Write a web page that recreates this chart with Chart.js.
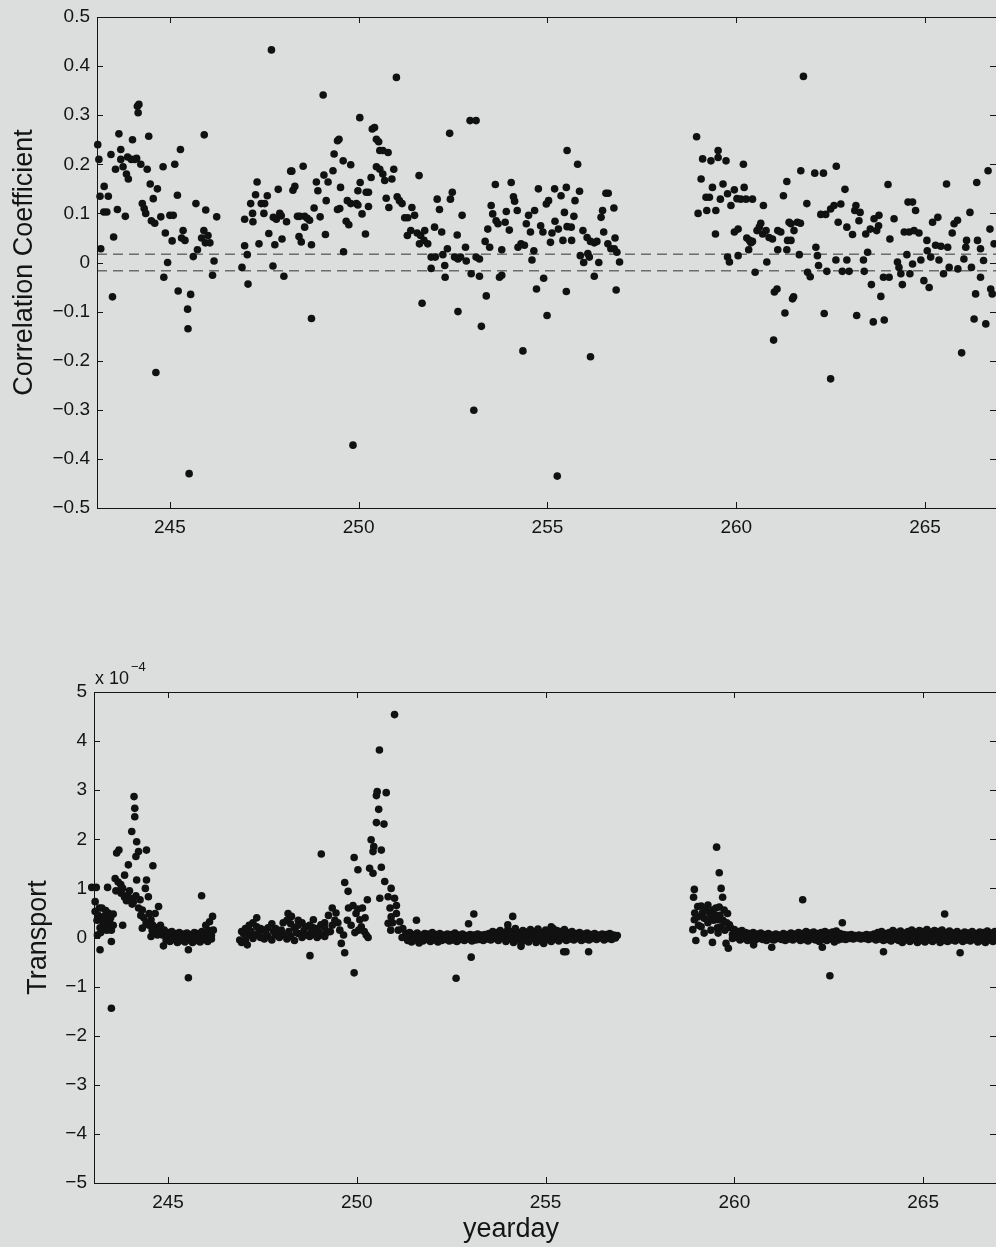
<!DOCTYPE html>
<html>
<head>
<meta charset="utf-8">
<title>Correlation coefficient and transport vs yearday</title>
<script src="https://cdn.jsdelivr.net/npm/chart.js@4.4.1/dist/chart.umd.min.js"></script>
<style>
  html, body { margin: 0; padding: 0; background: #dcdddd; overflow: hidden; }
  #wrap { position: relative; width: 996px; height: 1247px; overflow: hidden; }
  canvas { position: absolute; left: 0; }
  #corr-canvas { top: 0; }
  #trans-canvas { top: 600px; }
</style>
</head>
<body>
<div id="wrap">
  <canvas id="corr-canvas" width="1000" height="560"></canvas>
  <canvas id="trans-canvas" width="1000" height="647"></canvas>
</div>
<script>
// ---- data: [yearday, value] ----

const dayTicks = [245, 250, 255, 260, 265];
const corrTicks = [-0.5, -0.4, -0.3, -0.2, -0.1, 0, 0.1, 0.2, 0.3, 0.4, 0.5];
const transTicks = [-5, -4, -3, -2, -1, 0, 1, 2, 3, 4, 5];
const dashLevels = [0.017, -0.017];   // significance band in top panel

// correlation coefficient, first deployment burst
const corrA = [
  [243.09,0.24],[243.12,0.21],[243.15,0.135],[243.37,0.135],[243.26,0.155],[243.25,0.103],[243.33,0.103],
  [243.17,0.028],[243.44,0.22],[243.48,-0.07],[243.51,0.052],[243.56,0.19],[243.61,0.108],[243.65,0.262],
  [243.7,0.23],[243.7,0.21],[243.76,0.195],[243.82,0.094],[243.85,0.18],[243.9,0.17],[243.88,0.215],
  [244.01,0.25],[243.98,0.21],[244.07,0.21],[244.12,0.212],[244.14,0.318],[244.18,0.322],[244.16,0.305],
  [244.23,0.2],[244.27,0.12],[244.32,0.11],[244.36,0.1],[244.4,0.19],[244.44,0.257],[244.48,0.16],
  [244.56,0.13],[244.51,0.085],[244.6,0.08],[244.63,-0.224],[244.67,0.15],[244.76,0.093],[244.82,0.195],
  [244.84,-0.03],[244.88,0.06],[244.94,0.0],[245.0,0.096],[245.09,0.096],[245.06,0.044],[245.13,0.2],
  [245.2,0.137],[245.22,-0.058],[245.28,0.23],[245.31,0.05],[245.35,0.065],[245.4,0.045],[245.47,-0.095],
  [245.48,-0.135],[245.55,-0.065],[245.51,-0.43],[245.62,0.012],[245.69,0.12],[245.73,0.026],[245.84,0.05],
  [245.9,0.065],[245.94,0.04],[246.01,0.055],[246.06,0.04],[245.91,0.26],[245.95,0.107],[246.13,-0.026],
  [246.17,0.003],[246.24,0.093]
];

// correlation coefficient, second burst
const corrB = [
  [246.91,-0.01],[246.98,0.088],[246.98,0.034],[247.05,0.016],[247.07,-0.044],[247.14,0.12],[247.19,0.1],
  [247.2,0.083],[247.27,0.138],[247.31,0.164],[247.36,0.038],[247.42,0.12],[247.51,0.12],[247.49,0.1],
  [247.58,0.136],[247.62,0.059],[247.69,0.433],[247.73,-0.007],[247.78,0.036],[247.74,0.092],[247.82,0.088],
  [247.87,0.149],[247.91,0.1],[247.95,0.095],[247.97,0.048],[248.02,-0.028],[248.09,0.083],[248.2,0.186],
  [248.23,0.186],[248.26,0.147],[248.31,0.155],[248.38,0.094],[248.44,0.094],[248.57,0.094],[248.42,0.053],
  [248.48,0.042],[248.53,0.196],[248.57,0.072],[248.64,0.09],[248.7,0.086],[248.75,-0.114],[248.75,0.036],
  [248.82,0.111],[248.88,0.164],[248.92,0.146],[248.98,0.093],[249.06,0.341],[249.12,0.057],[249.08,0.178],
  [249.14,0.126],[249.19,0.164],
  [249.32,0.187],[249.35,0.221],[249.44,0.248],[249.48,0.251],[249.44,0.108],[249.5,0.11],[249.52,0.153],
  [249.59,0.207],[249.6,0.022],[249.7,0.126],[249.79,0.12],[249.79,0.199],[249.67,0.084],[249.74,0.077],
  [249.85,-0.372],[249.94,0.12],[249.98,0.117],[249.98,0.146],[250.03,0.295],[250.04,0.163],[250.09,0.099],
  [250.18,0.058],[250.2,0.143],[250.26,0.143],[250.26,0.114],[250.33,0.173],[250.36,0.272],[250.42,0.275],
  [250.47,0.251],[250.53,0.246],[250.47,0.195],[250.56,0.19],[250.56,0.228],[250.64,0.228],[250.78,0.224],
  [250.64,0.18],[250.69,0.167],[250.73,0.131],[250.8,0.112],[250.88,0.17],[250.93,0.19],[251.0,0.377],
  [251.02,0.134],[251.08,0.126],[251.15,0.12],[251.22,0.091],[251.3,0.091],[251.48,0.096],[251.29,0.055],
  [251.38,0.065],[251.41,0.112],[251.6,0.177],[251.55,0.06],[251.64,0.055],[251.73,0.045],[251.83,0.038],
  [251.61,0.038],[251.68,-0.083],[251.75,0.065],[251.92,0.011],[252.03,0.011],[251.92,-0.012],[252.01,0.072],
  [252.08,0.129],[252.14,0.108],[252.2,0.062],[252.23,0.016],[252.35,0.028],[252.28,-0.006],[252.29,-0.03],
  [252.41,0.263],[252.43,0.129],[252.48,0.143],[252.54,0.011],[252.63,0.007],[252.7,0.011],[252.61,0.056],
  [252.63,-0.1],[252.74,0.096],[252.83,0.031],[252.85,0.003],[252.95,0.289],[253.11,0.289],[252.98,-0.023],
  [253.2,-0.028],[253.05,-0.301],[253.11,0.011],[253.2,0.007],[253.25,-0.13],[253.35,0.043],[253.38,-0.068],
  [253.42,0.068],[253.47,0.031],[253.51,0.116],[253.55,0.099],[253.64,0.085],[253.69,0.079],[253.62,0.159],
  [253.73,-0.03],[253.79,-0.026],[253.79,0.026],[253.88,0.082],[253.91,0.104],[253.99,0.066],[254.04,0.163],
  [254.1,0.134],[254.13,0.125],[254.2,0.106],[254.22,0.031],[254.3,0.038],[254.39,0.035],[254.35,-0.18],
  [254.44,0.079],[254.5,0.096],[254.55,0.062],[254.59,0.005],[254.66,0.106],[254.64,0.024],[254.71,-0.054],
  [254.76,0.15],[254.82,0.075],[254.88,0.062],[254.9,-0.032],[254.97,0.119],[255.03,0.126],[254.99,-0.108],
  [255.08,0.041],[255.12,0.06],[255.19,0.15],[255.2,0.084],[255.29,0.068],[255.26,-0.435],[255.36,0.136],
  [255.41,0.045],[255.45,0.102],[255.5,0.153],[255.52,0.228],[255.5,-0.059],[255.52,0.073],
  [255.8,0.2],[255.85,0.145],[255.73,0.126],[255.7,0.094],[255.63,0.072],[255.64,0.045],[255.94,0.065],
  [256.05,0.051],[256.14,0.043],[256.24,0.04],[256.31,0.043],[255.87,0.014],[255.96,0.0],[256.11,0.011],
  [256.07,0.018],[256.14,-0.192],[256.24,-0.028],[256.36,0.0],[256.42,0.092],[256.46,0.106],[256.49,0.062],
  [256.55,0.141],[256.61,0.141],[256.6,0.038],[256.68,0.028],[256.77,0.028],[256.76,0.111],[256.79,0.05],
  [256.82,-0.056],[256.84,0.021],[256.91,0.001]
];

// correlation coefficient, third burst
const corrC = [
  [258.95,0.256],[258.99,0.1],[259.07,0.17],[259.11,0.211],[259.33,0.207],[259.2,0.133],[259.29,0.133],
  [259.22,0.106],[259.46,0.106],[259.37,0.153],[259.45,0.058],[259.52,0.228],[259.52,0.214],[259.58,0.129],
  [259.65,0.16],[259.73,0.207],[259.77,0.14],[259.77,0.011],[259.82,0.001],[259.86,0.116],[259.95,0.148],
  [259.95,0.062],[260.02,0.13],[260.12,0.129],[260.26,0.129],[260.43,0.129],[260.05,0.068],[260.05,0.014],
  [260.19,0.2],[260.21,0.153],[260.28,0.05],[260.35,0.045],[260.33,0.026],[260.5,-0.02],[260.55,0.065],
  [260.61,0.072],[260.7,0.058],[260.79,0.065],[260.87,0.051],[260.96,0.048],[261.1,0.065],[261.18,0.062],
  [260.65,0.08],[260.72,0.116],[260.81,0.001],[260.43,0.043],[260.39,0.04],[260.99,-0.158],[261.01,-0.06],
  [261.08,-0.054],[261.1,0.026],[261.25,0.136],[261.29,-0.103],[261.34,0.165],[261.34,0.026],[261.45,0.079],
  [261.45,0.045],[261.49,-0.074],
  [261.78,0.379],[261.71,0.187],[262.08,0.182],[262.31,0.182],[262.65,0.196],[262.88,0.149],[261.87,0.12],
  [261.4,0.082],[261.62,0.082],[261.7,0.08],[261.53,0.065],[261.36,0.045],[261.67,0.016],[261.89,-0.02],
  [261.96,-0.029],[261.52,-0.07],[262.11,0.031],[262.15,0.014],[262.18,-0.006],[262.24,0.098],[262.37,0.098],
  [262.4,-0.018],[262.33,-0.104],[262.5,-0.237],[262.5,0.109],[262.59,0.116],[262.77,0.119],[262.7,0.082],
  [262.64,0.005],[262.81,-0.018],[262.99,-0.018],[262.93,0.072],[262.93,0.005],[263.08,0.057],[263.14,0.106],
  [263.17,0.116],[263.28,0.102],[263.19,-0.108],[263.25,0.085],[263.39,-0.018],[263.37,0.005],[263.43,0.058],
  [263.48,0.021],[263.55,0.068],[263.58,-0.045],[263.63,-0.121],[263.92,-0.117],[263.65,0.089],[263.72,0.065],
  [263.77,0.075],[263.78,0.096],[263.83,-0.069],[263.9,-0.03],[264.05,-0.03],[264.02,0.159],[264.07,0.048],
  [264.18,0.089],[264.27,0.001],[264.31,-0.01],[264.36,-0.023],[264.4,-0.045],[264.45,0.062],[264.58,0.062],
  [264.71,0.065],[264.52,0.016],[264.55,0.123],[264.67,0.123],[264.6,-0.023],[264.67,-0.003],[264.75,0.106],
  [264.84,0.06],[264.89,0.005],[264.97,-0.037],[265.05,0.045],[265.06,0.024],[265.11,-0.051],[265.15,0.011],
  [265.2,0.082],[265.34,0.092],[265.28,0.035],[265.42,0.033],[265.6,0.031],[265.37,0.005],[265.49,-0.023],
  [265.57,0.16],[265.64,-0.01],[265.72,0.06],[265.77,0.079],[265.86,0.086],[265.87,-0.013],[265.97,-0.184],
  [266.03,0.007],[266.08,0.031],[266.1,0.045],[266.19,0.102],[266.23,-0.01],[266.3,-0.115],[266.34,-0.064],
  [266.37,0.163],[266.39,0.045],[266.47,0.028],[266.47,-0.03],[266.55,0.004],[266.61,-0.125],[266.67,0.187],
  [266.72,0.068],[266.74,-0.054],[266.78,-0.064],[266.83,0.038]
];

// transport (units of 1e-4), first burst with the spike near day 244
const transA = [
  [242.98,1.02],[243.1,1.02],[243.4,1.02],[243.07,0.73],[243.07,0.53],[243.15,0.45],[243.28,0.42],
  [243.42,0.5],[243.55,0.48],[243.2,0.2],[243.37,0.22],[243.5,0.15],[243.13,0.05],[243.3,0.3],[243.45,0.35],
  [243.25,0.6],[243.35,0.55],[243.2,-0.25],[243.5,-0.08],[243.5,-1.44],[243.64,1.72],[243.7,1.78],
  [243.6,1.2],[243.68,1.13],[243.75,1.08],[243.76,0.9],[243.85,0.82],[243.93,0.86],[244.0,0.8],[244.08,0.72],
  [243.8,0.25],[243.85,1.27],[243.95,1.48],[244.04,2.16],[244.1,2.87],[244.12,2.63],[244.12,2.46],
  [244.17,1.95],[244.15,1.65],[244.22,1.75],[244.17,1.17],[244.26,0.77],[244.32,0.56],[244.32,0.19],
  [244.4,1.0],[244.43,1.17],[244.43,1.78],[244.48,0.83],[244.6,1.46],[244.5,0.49],[244.55,0.36],[244.6,0.25],
  [244.68,0.2],[244.78,0.15],[244.87,0.12],[244.55,0.02],[244.75,0.63],[244.66,0.49],[244.88,-0.17],
  [245.54,-0.25],[245.54,-0.82],[245.89,0.85],[246.0,0.25],[246.1,0.32],[246.18,0.43],[246.07,0.12],
  [243.12,0.35],[243.18,0.6],[243.22,0.1],[243.27,0.32],[243.33,0.4],[243.38,0.15],[243.43,0.28],
  [243.48,0.4],[243.55,0.25],[243.62,0.95],[243.72,0.95],[243.8,1.0],[243.9,0.75],[243.98,0.95],
  [244.05,0.68],[244.15,0.85],[244.22,0.6],[244.28,0.45],[244.36,0.4],[244.42,0.3],[244.5,0.25],
  [244.58,0.15],[244.65,0.12],[244.72,0.05],[244.8,0.25],[244.85,0.05]
];

// transport, near-zero band after the first spike
const transBandA = [
  [244.9,0.15],[245.0,0.1],[245.1,0.12],[245.2,0.08],[245.3,0.1],[245.4,0.07],[245.5,0.09],[245.6,0.06],
  [245.7,0.1],[245.8,0.08],[245.9,0.12],[246.0,0.1],[246.1,0.14],[246.2,0.15],
  [244.95,0.02],[245.05,0.03],[245.15,0.01],[245.25,0.02],[245.35,0.0],[245.45,0.02],[245.55,0.01],
  [245.65,0.03],[245.75,0.01],[245.85,0.02],[245.95,0.03],[246.05,0.02],[246.15,0.04],
  [244.95,-0.05],[245.05,-0.08],[245.15,-0.04],[245.25,-0.1],[245.35,-0.06],[245.45,-0.09],[245.55,-0.05],
  [245.65,-0.1],[245.75,-0.06],[245.85,-0.09],[245.95,-0.04],[246.05,-0.08],[246.15,-0.03]
];

// transport, second burst with the spike near day 250.5
const transB = [
  [246.9,-0.05],[247.1,-0.15],[247.35,0.4],[248.18,0.49],[248.27,0.43],[248.45,0.35],[248.85,0.36],
  [248.76,-0.37],[249.06,1.7],
  [251.0,4.54],[250.6,3.82],[250.54,2.97],[250.78,2.95],[250.52,2.89],[250.58,2.61],[250.52,2.34],
  [250.72,2.31],[250.38,1.99],[250.45,1.85],[250.43,1.75],[250.65,1.78],[249.93,1.63],[250.03,1.38],
  [250.34,1.41],[250.43,1.31],[250.65,1.43],[249.68,1.12],[249.77,0.94],[250.74,1.14],[249.78,0.6],
  [249.9,0.65],[250.03,0.58],[250.28,0.77],[250.61,0.8],[250.83,0.83],[251.0,0.8],[250.91,1.0],
  [249.45,0.5],[249.42,0.35],[249.35,0.25],[249.3,0.12],[249.15,0.3],[249.2,0.1],[249.98,0.49],[250.08,0.36],
  [250.12,0.22],[250.2,0.12],[250.25,0.05],[249.59,-0.12],[249.68,-0.31],[249.93,-0.72],[250.83,0.29],
  [250.91,0.42],[251.05,0.49],[251.14,0.32],[251.22,0.18],[251.31,0.02],[251.58,0.35],
  [249.25,0.45],[249.35,0.6],[249.5,0.3],[249.55,0.15],[249.65,0.05],[249.75,0.35],[249.85,0.25],
  [249.95,0.1],[250.05,0.15],[250.15,0.6],[250.22,0.4],[250.3,0.0],[250.88,0.6],[250.95,0.3],
  [251.1,0.15],[251.2,0.0],[251.05,0.65],[250.9,0.15],
  [253.1,0.48],[252.96,0.28],[253.03,-0.4],[252.63,-0.83],[254.13,0.43],[254.0,0.26],[254.35,-0.18],
  [255.48,-0.29],[255.54,-0.29],[256.14,-0.29],[255.15,0.22]
];

// transport, scatter between days 247 and 249.2
const transBandB1 = [
  [246.95,0.12],[247.05,0.18],[247.15,0.25],[247.25,0.3],[247.35,0.22],[247.45,0.18],[247.55,0.15],
  [247.65,0.2],[247.75,0.28],[247.85,0.18],[247.95,0.12],[248.05,0.3],[248.15,0.35],[248.25,0.28],
  [248.35,0.2],[248.45,0.25],[248.55,0.3],[248.65,0.22],[248.75,0.25],[248.85,0.2],[248.95,0.18],
  [249.05,0.26],[249.15,0.2],
  [246.95,-0.1],[247.05,-0.05],[247.15,0.05],[247.25,-0.02],[247.35,0.05],[247.45,0.0],[247.55,-0.03],
  [247.65,0.02],[247.75,-0.05],[247.85,0.05],[247.95,0.0],[248.05,0.05],[248.15,-0.03],[248.25,0.02],
  [248.35,-0.06],[248.45,0.08],[248.55,0.0],[248.65,0.05],[248.75,0.02],[248.85,0.06],[248.95,0.0],
  [249.05,0.05],[249.15,0.02],
  [247.0,0.08],[247.2,0.12],[247.4,0.1],[247.6,0.08],[247.8,0.12],[248.0,0.15],[248.2,0.12],[248.4,0.1],
  [248.6,0.14],[248.8,0.12],[249.0,0.1]
];

// transport, near-zero band from day 251.3 to 256.9
const transBandB2 = [
  [251.3,0.08],[251.4,0.1],[251.5,0.06],[251.6,0.09],[251.7,0.05],[251.8,0.08],[251.9,0.07],[252.0,0.1],
  [252.1,0.06],[252.2,0.08],[252.3,0.05],[252.4,0.07],[252.5,0.06],[252.6,0.09],[252.7,0.05],[252.8,0.07],
  [252.9,0.04],[253.0,0.06],[253.1,0.05],[253.2,0.07],[253.3,0.05],[253.4,0.06],[253.5,0.08],[253.6,0.12],
  [253.7,0.1],[253.8,0.14],[253.9,0.09],[254.0,0.16],[254.1,0.12],[254.2,0.18],[254.3,0.1],[254.4,0.14],
  [254.5,0.11],[254.6,0.16],[254.7,0.12],[254.8,0.17],[254.9,0.1],[255.0,0.15],[255.1,0.12],[255.2,0.18],
  [255.3,0.14],[255.4,0.12],[255.5,0.16],[255.6,0.1],[255.7,0.12],[255.8,0.08],[255.9,0.1],[256.0,0.07],
  [256.1,0.09],[256.2,0.06],[256.3,0.08],[256.4,0.05],[256.5,0.07],[256.6,0.06],[256.7,0.08],[256.8,0.05],
  [256.9,0.04],
  [251.35,0.02],[251.45,0.01],[251.55,0.03],[251.65,0.0],[251.75,0.02],[251.85,0.03],[251.95,0.01],
  [252.05,0.02],[252.15,0.0],[252.25,0.02],[252.35,0.01],[252.45,0.02],[252.55,0.01],[252.65,0.02],
  [252.75,0.01],[252.85,0.02],[252.95,0.01],[253.05,0.0],[253.15,0.02],[253.25,0.01],[253.35,0.02],
  [253.45,0.03],[253.55,0.02],[253.65,0.05],[253.75,0.03],[253.85,0.06],[253.95,0.04],[254.05,0.07],
  [254.15,0.04],[254.25,0.06],[254.35,0.03],[254.45,0.05],[254.55,0.03],[254.65,0.06],[254.75,0.04],
  [254.85,0.05],[254.95,0.03],[255.05,0.06],[255.15,0.04],[255.25,0.07],[255.35,0.05],[255.45,0.06],
  [255.55,0.04],[255.65,0.05],[255.75,0.03],[255.85,0.04],[255.95,0.02],[256.05,0.03],[256.15,0.02],
  [256.25,0.03],[256.35,0.02],[256.45,0.03],[256.55,0.01],[256.65,0.03],[256.75,0.02],[256.85,0.02],
  [251.35,-0.06],[251.45,-0.09],[251.55,-0.05],[251.65,-0.11],[251.75,-0.07],[251.85,-0.04],[251.95,-0.08],
  [252.05,-0.05],[252.15,-0.09],[252.25,-0.06],[252.35,-0.04],[252.45,-0.07],[252.55,-0.05],[252.65,-0.08],
  [252.75,-0.04],[252.85,-0.06],[252.95,-0.03],[253.05,-0.07],[253.15,-0.05],[253.25,-0.04],[253.35,-0.06],
  [253.45,-0.03],[253.55,-0.05],[253.65,-0.02],[253.75,-0.06],[253.85,-0.01],[253.95,-0.08],[254.05,-0.03],
  [254.15,-0.1],[254.25,-0.04],[254.35,-0.12],[254.45,-0.05],[254.55,-0.09],[254.65,-0.02],[254.75,-0.1],
  [254.85,-0.06],[254.95,-0.12],[255.05,-0.04],[255.15,-0.08],[255.25,-0.03],[255.35,-0.07],[255.45,-0.02],
  [255.55,-0.06],[255.65,-0.03],[255.75,-0.05],[255.85,-0.02],[255.95,-0.06],[256.05,-0.03],[256.15,-0.05],
  [256.25,-0.02],[256.35,-0.04],[256.45,-0.01],[256.55,-0.05],[256.65,-0.02],[256.75,-0.04],[256.85,-0.01]
];

// transport, third burst with the spike near day 259.5
const transC = [
  [259.53,1.84],[259.6,1.32],[258.94,0.98],[259.65,1.0],[258.92,0.82],[259.69,0.82],[259.03,0.63],
  [259.12,0.64],[259.3,0.66],[259.43,0.56],[259.51,0.6],[259.6,0.62],[259.73,0.56],[259.82,0.49],
  [258.94,0.36],[259.03,0.42],[259.2,0.39],[259.38,0.42],[259.56,0.36],[258.9,0.16],[259.12,0.22],
  [259.2,0.09],[259.38,0.15],[259.65,0.22],[259.87,0.26],[258.98,-0.06],[259.42,-0.1],[259.57,0.09],
  [259.78,-0.12],[259.84,-0.22],[260.51,-0.15],[260.99,-0.2],
  [258.95,0.5],[259.05,0.25],[259.15,0.5],[259.25,0.55],[259.3,0.3],[259.35,0.5],[259.45,0.35],
  [259.5,0.45],[259.55,0.2],[259.62,0.45],[259.7,0.35],[259.75,0.15],[259.8,0.3],
  [261.81,0.77],[262.86,0.3],[265.57,0.48],[262.33,-0.2],[262.53,-0.78],[263.95,-0.29],[265.98,-0.31]
];

// transport, near-zero band from day 259.9 to the right edge
const transBandC = [
  [259.9,0.2],[260.0,0.16],[260.1,0.12],[260.2,0.14],[260.3,0.1],[260.4,0.08],[260.5,0.1],[260.6,0.07],
  [260.7,0.09],[260.8,0.06],[260.9,0.08],[261.0,0.05],[261.1,0.07],[261.2,0.05],[261.3,0.08],[261.4,0.06],
  [261.5,0.09],[261.6,0.07],[261.7,0.1],[261.8,0.08],[261.9,0.12],[262.0,0.09],[262.1,0.11],[262.2,0.08],
  [262.3,0.1],[262.4,0.12],[262.5,0.09],[262.6,0.11],[262.7,0.13],[262.8,0.08],[262.9,0.06],[263.0,0.05],
  [263.1,0.06],[263.2,0.04],[263.3,0.05],[263.4,0.04],[263.5,0.06],[263.6,0.05],[263.7,0.07],[263.8,0.1],
  [263.9,0.12],[264.0,0.08],[264.1,0.1],[264.2,0.14],[264.3,0.1],[264.4,0.13],[264.5,0.09],[264.6,0.12],
  [264.7,0.15],[264.8,0.11],[264.9,0.14],[265.0,0.12],[265.1,0.16],[265.2,0.11],[265.3,0.14],[265.4,0.12],
  [265.5,0.15],[265.6,0.1],[265.7,0.13],[265.8,0.09],[265.9,0.12],[266.0,0.08],[266.1,0.11],[266.2,0.09],
  [266.3,0.12],[266.4,0.08],[266.5,0.11],[266.6,0.1],[266.7,0.13],[266.8,0.09],[266.9,0.12],
  [259.95,0.06],[260.05,0.07],[260.15,0.04],[260.25,0.05],[260.35,0.03],[260.45,0.04],[260.55,0.02],
  [260.65,0.03],[260.75,0.02],[260.85,0.01],[260.95,0.03],[261.05,0.01],[261.15,0.02],[261.25,0.01],
  [261.35,0.02],[261.45,0.01],[261.55,0.03],[261.65,0.02],[261.75,0.03],[261.85,0.02],[261.95,0.04],
  [262.05,0.03],[262.15,0.02],[262.25,0.03],[262.35,0.04],[262.45,0.02],[262.55,0.03],[262.65,0.02],
  [262.75,0.04],[262.85,0.02],[262.95,0.01],[263.05,0.02],[263.15,0.01],[263.25,0.02],[263.35,0.01],
  [263.45,0.02],[263.55,0.01],[263.65,0.02],[263.75,0.03],[263.85,0.04],[263.95,0.02],[264.05,0.03],
  [264.15,0.04],[264.25,0.05],[264.35,0.03],[264.45,0.04],[264.55,0.03],[264.65,0.05],[264.75,0.04],
  [264.85,0.03],[264.95,0.05],[265.05,0.04],[265.15,0.03],[265.25,0.05],[265.35,0.04],[265.45,0.03],
  [265.55,0.05],[265.65,0.03],[265.75,0.04],[265.85,0.02],[265.95,0.04],[266.05,0.03],[266.15,0.02],
  [266.25,0.04],[266.35,0.03],[266.45,0.02],[266.55,0.04],[266.65,0.03],[266.75,0.02],[266.85,0.03],
  [259.95,-0.02],[260.05,0.0],[260.15,-0.05],[260.25,-0.02],[260.35,-0.06],[260.45,-0.03],[260.55,-0.05],
  [260.65,-0.02],[260.75,-0.04],[260.85,-0.06],[260.95,-0.03],[261.05,-0.05],[261.15,-0.02],[261.25,-0.04],
  [261.35,-0.06],[261.45,-0.03],[261.55,-0.05],[261.65,-0.02],[261.75,-0.06],[261.85,-0.04],[261.95,-0.07],
  [262.05,-0.03],[262.15,-0.05],[262.25,-0.08],[262.35,-0.04],[262.45,-0.06],[262.55,-0.03],[262.65,-0.09],
  [262.75,-0.05],[262.85,-0.03],[262.95,-0.04],[263.05,-0.02],[263.15,-0.03],[263.25,-0.01],[263.35,-0.03],
  [263.45,-0.02],[263.55,-0.04],[263.65,-0.02],[263.75,-0.05],[263.85,-0.03],[263.95,-0.06],[264.05,-0.04],
  [264.15,-0.07],[264.25,-0.03],[264.35,-0.06],[264.45,-0.1],[264.55,-0.05],[264.65,-0.08],[264.75,-0.04],
  [264.85,-0.1],[264.95,-0.06],[265.05,-0.09],[265.15,-0.05],[265.25,-0.08],[265.35,-0.04],[265.45,-0.1],
  [265.55,-0.06],[265.65,-0.08],[265.75,-0.05],[265.85,-0.07],[265.95,-0.04],[266.05,-0.08],[266.15,-0.05],
  [266.25,-0.07],[266.35,-0.04],[266.45,-0.09],[266.55,-0.06],[266.65,-0.1],[266.75,-0.05],[266.85,-0.08]
];

// ---- drawing ----

const FONT = "'Liberation Sans', Arial, Helvetica, sans-serif";
const INK = '#141414';

function toPoints(pairs) {
  return pairs.map(([x, y]) => ({ x, y }));
}

function withMinus(v, digits) {
  const s = v === 0 ? '0' : v.toFixed(digits);
  return s.replace('-', '\u2212');
}

// MATLAB style box with inward ticks on all four sides
const frameTicks = {
  id: 'frameTicks',
  afterDraw(chart) {
    const { ctx, chartArea: a, scales } = chart;
    const len = 6;
    ctx.save();
    ctx.strokeStyle = INK;
    ctx.lineWidth = 1;
    ctx.beginPath();
    ctx.rect(a.left + 0.5, a.top + 0.5, a.right - a.left, a.bottom - a.top);
    scales.x.ticks.forEach(t => {
      const px = Math.round(scales.x.getPixelForValue(t.value)) + 0.5;
      ctx.moveTo(px, a.bottom); ctx.lineTo(px, a.bottom - len);
      ctx.moveTo(px, a.top); ctx.lineTo(px, a.top + len);
    });
    scales.y.ticks.forEach(t => {
      const py = Math.round(scales.y.getPixelForValue(t.value)) + 0.5;
      ctx.moveTo(a.left, py); ctx.lineTo(a.left + len, py);
      ctx.moveTo(a.right, py); ctx.lineTo(a.right - len, py);
    });
    ctx.stroke();
    ctx.restore();
  }
};

// free text: exponent note and x label
const extraText = {
  id: 'extraText',
  afterDraw(chart, args, opts) {
    if (!opts.items) return;
    const { ctx } = chart;
    ctx.save();
    ctx.fillStyle = INK;
    let lastRight = 0;
    opts.items.forEach(it => {
      ctx.font = it.size + 'px ' + FONT;
      ctx.textAlign = it.align || 'left';
      ctx.textBaseline = 'alphabetic';
      const x = it.after ? lastRight + it.after : it.x;
      ctx.fillText(it.text, x, it.y);
      lastRight = x + ctx.measureText(it.text).width;
    });
    ctx.restore();
  }
};

function makeChart(canvas, cfg) {
  const datasets = [];
  (cfg.dashes || []).forEach(level => {
    datasets.push({
      type: 'line',
      data: [{ x: cfg.xMin, y: level }, { x: cfg.xMax, y: level }],
      borderColor: '#333',
      borderWidth: 1,
      borderDash: [10, 6],
      pointRadius: 0,
      order: 2
    });
  });
  datasets.push({
    type: 'scatter',
    data: toPoints(cfg.points),
    backgroundColor: '#111',
    borderWidth: 0,
    pointRadius: 3.8,
    clip: 6,
    order: 1
  });

  return new Chart(canvas, {
    type: 'scatter',
    data: { datasets },
    options: {
      responsive: false,
      animation: false,
      devicePixelRatio: 1,
      events: [],
      layout: { padding: cfg.padding },
      plugins: {
        legend: { display: false },
        tooltip: { enabled: false },
        extraText: { items: cfg.texts || null }
      },
      scales: {
        x: {
          type: 'linear',
          min: cfg.xMin,
          max: cfg.xMax,
          afterBuildTicks: s => { s.ticks = dayTicks.map(v => ({ value: v })); },
          afterFit: s => { s.height = 40; s.paddingLeft = 0; s.paddingRight = 0; },
          grid: { display: false, drawTicks: false },
          border: { display: false },
          ticks: {
            color: INK,
            font: { family: FONT, size: 19 },
            padding: 8,
            maxRotation: 0,
            autoSkip: false,
            callback: v => String(v)
          }
        },
        y: {
          type: 'linear',
          min: cfg.yMin,
          max: cfg.yMax,
          afterBuildTicks: s => { s.ticks = cfg.yTicks.map(v => ({ value: v })); },
          afterFit: s => { s.width = cfg.yWidth; s.paddingTop = 0; s.paddingBottom = 0; },
          grid: { display: false, drawTicks: false },
          border: { display: false },
          ticks: {
            color: INK,
            font: { family: FONT, size: 19 },
            padding: 7,
            autoSkip: false,
            callback: v => withMinus(v, cfg.yDigits)
          },
          title: {
            display: true,
            text: cfg.yTitle,
            color: INK,
            font: { family: FONT, size: 27 },
            padding: { top: cfg.titlePad, bottom: 0 }
          }
        }
      }
    },
    plugins: [frameTicks, extraText]
  });
}

makeChart(document.getElementById('corr-canvas'), {
  points: corrA.concat(corrB, corrC),
  dashes: dashLevels,
  xMin: 243.07, xMax: 266.88,
  yMin: -0.5, yMax: 0.5,
  yTicks: corrTicks, yDigits: 1,
  yTitle: 'Correlation Coefficient',
  titlePad: 8,
  yWidth: 97,
  padding: { left: 0, top: 17, right: 3, bottom: 12 }
});

makeChart(document.getElementById('trans-canvas'), {
  points: transA.concat(transBandA, transB, transBandB1, transBandB2, transC, transBandC),
  xMin: 243.04, xMax: 266.93,
  yMin: -5, yMax: 5,
  yTicks: transTicks, yDigits: 0,
  yTitle: 'Transport',
  titlePad: 22,
  yWidth: 94,
  padding: { left: 0, top: 92, right: 3, bottom: 24 },
  texts: [
    { text: 'x 10', x: 95, y: 84, size: 18 },
    { text: '\u22124', after: 2, y: 71, size: 13 },
    { text: 'yearday', x: 511, y: 637, size: 27, align: 'center' }
  ]
});
</script>
</body>
</html>
